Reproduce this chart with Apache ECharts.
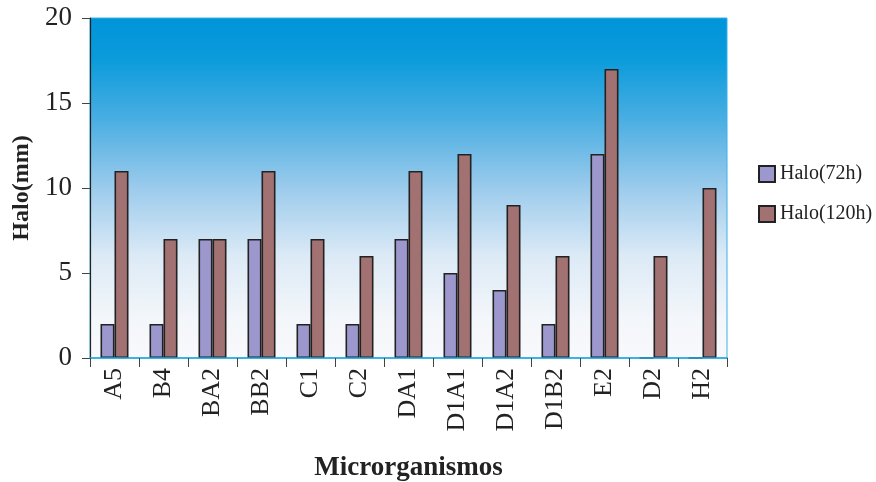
<!DOCTYPE html>
<html>
<head>
<meta charset="utf-8">
<script src="https://cdn.jsdelivr.net/npm/echarts@6/dist/echarts.min.js"></script>
<style>
  html, body { margin: 0; padding: 0; background: #fff; }
  #chart { width: 876px; height: 482px; }
</style>
</head>
<body>
<div id="chart"></div>
<script>
// Microorganism halo diameters (mm) after 72h and 120h
const categories = ['A5', 'B4', 'BA2', 'BB2', 'C1', 'C2', 'DA1', 'D1A1', 'D1A2', 'D1B2', 'E2', 'D2', 'H2'];
const halo72 = [2, 2, 7, 7, 2, 2, 7, 5, 4, 2, 12, 0, 0];
const halo120 = [11, 7, 7, 11, 7, 6, 11, 12, 9, 6, 17, 6, 10];
const yTicks = { min: 0, max: 20, interval: 5 };

const serif = '"Liberation Serif", "DejaVu Serif", serif';
const chart = echarts.init(document.getElementById('chart'));

chart.setOption({
  animation: false,
  backgroundColor: '#ffffff',
  grid: {
    left: 90, right: 149, top: 18, bottom: 124,
    outerBoundsMode: 'none',
    containLabel: false,
    show: true,
    borderColor: '#3AB0E8',
    borderWidth: 1,
    backgroundColor: new echarts.graphic.LinearGradient(0, 0, 0, 1, [
      { offset: 0, color: '#0094D9' },
      { offset: 0.12, color: '#0A9BDB' },
      { offset: 0.3, color: '#4AAEE2' },
      { offset: 0.5, color: '#9CCBEC' },
      { offset: 0.7, color: '#DCEAF6' },
      { offset: 0.88, color: '#F3F6FA' },
      { offset: 1, color: '#F8F9FC' }
    ])
  },
  legend: {
    orient: 'vertical',
    left: 758,
    top: 164,
    padding: 0,
    itemWidth: 16,
    itemHeight: 16,
    itemGap: 20,
    icon: 'rect',
    textStyle: { fontFamily: serif, fontSize: 20, color: '#222' },
    data: ['Halo(72h)', 'Halo(120h)']
  },
  xAxis: {
    type: 'category',
    data: categories,
    z: 3,
    name: 'Microrganismos',
    nameLocation: 'middle',
    nameGap: 97,
    nameTextStyle: { fontFamily: serif, fontSize: 27, fontWeight: 'bold', color: '#222' },
    axisLine: { lineStyle: { color: '#1EA6E3', width: 1.5 } },
    axisTick: { show: true, length: 9, lineStyle: { color: '#444', width: 1 } },
    axisLabel: { rotate: 90, margin: 10, fontFamily: serif, fontSize: 26, color: '#222' },
    splitLine: { show: false }
  },
  yAxis: {
    type: 'value',
    min: yTicks.min, max: yTicks.max, interval: yTicks.interval,
    name: 'Halo(mm)',
    nameLocation: 'middle',
    nameGap: 56,
    nameRotate: 90,
    nameTextStyle: { fontFamily: serif, fontSize: 24, fontWeight: 'bold', color: '#222' },
    axisLine: { show: true, lineStyle: { color: '#222', width: 1.2 } },
    axisTick: { show: true, length: 8, lineStyle: { color: '#444', width: 1 } },
    axisLabel: { margin: 18, fontFamily: serif, fontSize: 27, color: '#222' },
    splitLine: { show: false }
  },
  series: [
    {
      name: 'Halo(72h)',
      type: 'bar',
      data: halo72,
      barWidth: 14,
      barGap: '0%',
      itemStyle: { color: '#9C97CC', borderColor: '#222', borderWidth: 1.6 }
    },
    {
      name: 'Halo(120h)',
      type: 'bar',
      data: halo120,
      barWidth: 14,
      barGap: '0%',
      itemStyle: { color: '#A27172', borderColor: '#222', borderWidth: 1.6 }
    }
  ]
});
</script>
</body>
</html>
